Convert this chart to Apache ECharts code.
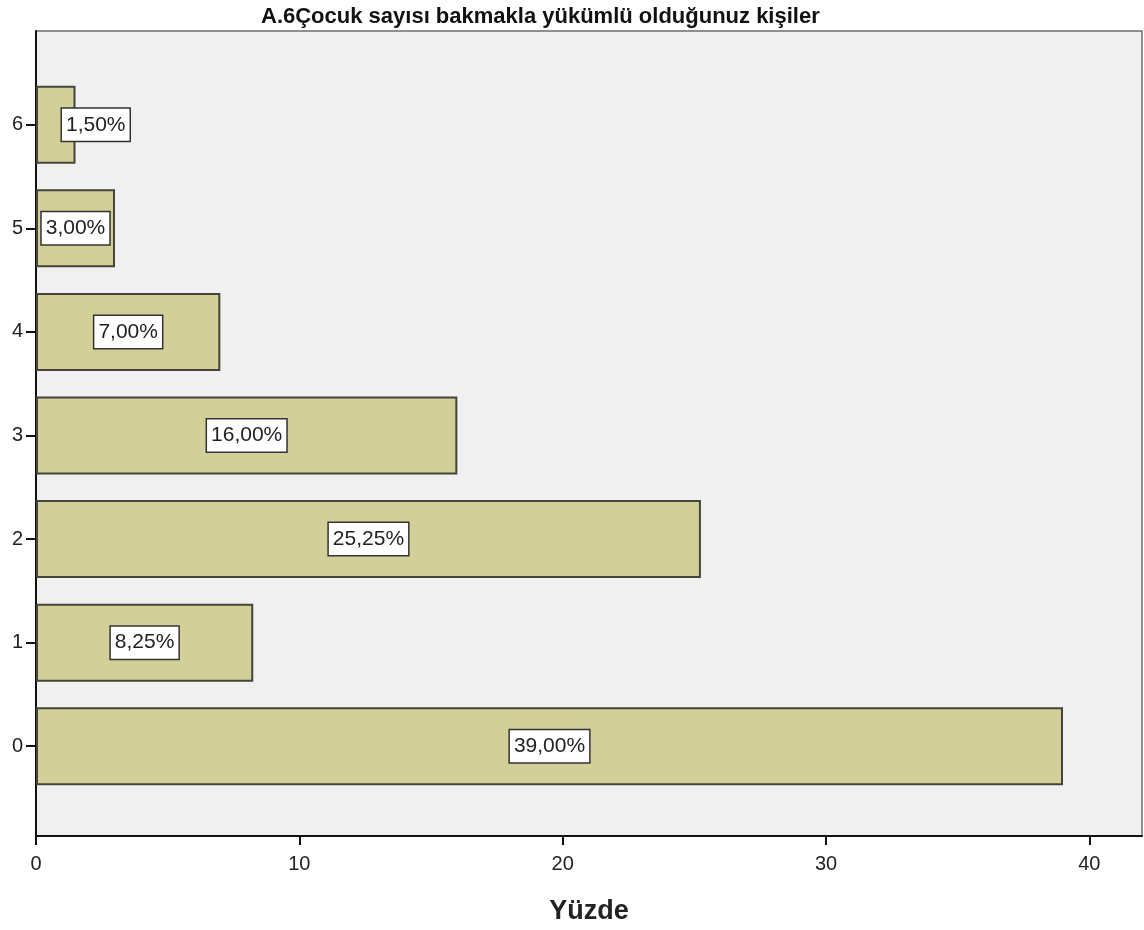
<!DOCTYPE html>
<html>
<head>
<meta charset="utf-8">
<script src="https://cdn.jsdelivr.net/npm/echarts@6/dist/echarts.min.js"></script>
<style>
html,body{margin:0;padding:0;background:#fff;}
#chart{width:1144px;height:930px;}
</style>
</head>
<body>
<div id="chart"></div>
<script>
const titleText = 'A.6Çocuk sayısı bakmakla yükümlü olduğunuz kişiler';
const axisName = 'Yüzde';
const categories = ['0', '1', '2', '3', '4', '5', '6'];
const values = [39.00, 8.25, 25.25, 16.00, 7.00, 3.00, 1.50];
const xTicks = [0, 10, 20, 30, 40];

const FONT = '"Liberation Sans", Arial, sans-serif';
const chart = echarts.init(document.getElementById('chart'), null, {renderer: 'canvas'});

const seriesData = values.map((v, i) => {
  if (v < 2) return {value: v, label: {offset: [40, 0]}};
  return v;
});

chart.setOption({
  animation: false,
  backgroundColor: '#ffffff',
  title: {
    text: titleText,
    left: 256,
    top: 1,
    textStyle: {fontFamily: FONT, fontWeight: 'bold', fontSize: 22, color: '#111'}
  },
  grid: [
    {left: 36, right: 2, top: 31, bottom: 91, show: true, backgroundColor: '#f0f0f0', borderColor: '#6e6e6e', borderWidth: 1.5},
    {left: 36, right: 2, top: 73, bottom: 132}
  ],
  xAxis: [
    {
      gridIndex: 0, type: 'value', min: 0, max: 42,
      name: axisName, nameLocation: 'middle', nameGap: 62,
      nameTextStyle: {fontFamily: FONT, fontWeight: 'bold', fontSize: 27, color: '#222'},
      axisLine: {show: true, lineStyle: {color: '#111', width: 2}},
      axisTick: {show: true, length: 9, lineStyle: {color: '#111', width: 2}, customValues: xTicks},
      axisLabel: {fontFamily: FONT, fontSize: 20, color: '#222', margin: 18, customValues: xTicks},
      splitLine: {show: false}
    },
    {gridIndex: 1, type: 'value', min: 0, max: 42, show: false}
  ],
  yAxis: [
    {
      gridIndex: 0, type: 'value', min: 0, max: 1,
      axisLine: {show: true, lineStyle: {color: '#111', width: 2}},
      axisTick: {show: false}, axisLabel: {show: false}, splitLine: {show: false}
    },
    {
      gridIndex: 1, type: 'category', data: categories,
      axisLine: {show: false},
      axisTick: {show: true, alignWithLabel: true, length: 10, lineStyle: {color: '#111', width: 2}},
      axisLabel: {fontFamily: FONT, fontSize: 20, color: '#222', margin: 13},
      splitLine: {show: false}
    }
  ],
  series: [{
    type: 'bar',
    xAxisIndex: 1,
    yAxisIndex: 1,
    data: seriesData,
    barWidth: 78,
    itemStyle: {color: '#d3cf98', borderColor: '#45443a', borderWidth: 2},
    label: {
      show: true,
      position: 'inside',
      formatter: p => p.value.toFixed(2).replace('.', ',') + '%',
      fontFamily: FONT, fontSize: 21, color: '#222',
      backgroundColor: '#ffffff', borderColor: '#333', borderWidth: 1.5,
      padding: [6, 4, 5, 4]
    }
  }]
});
</script>
</body>
</html>
